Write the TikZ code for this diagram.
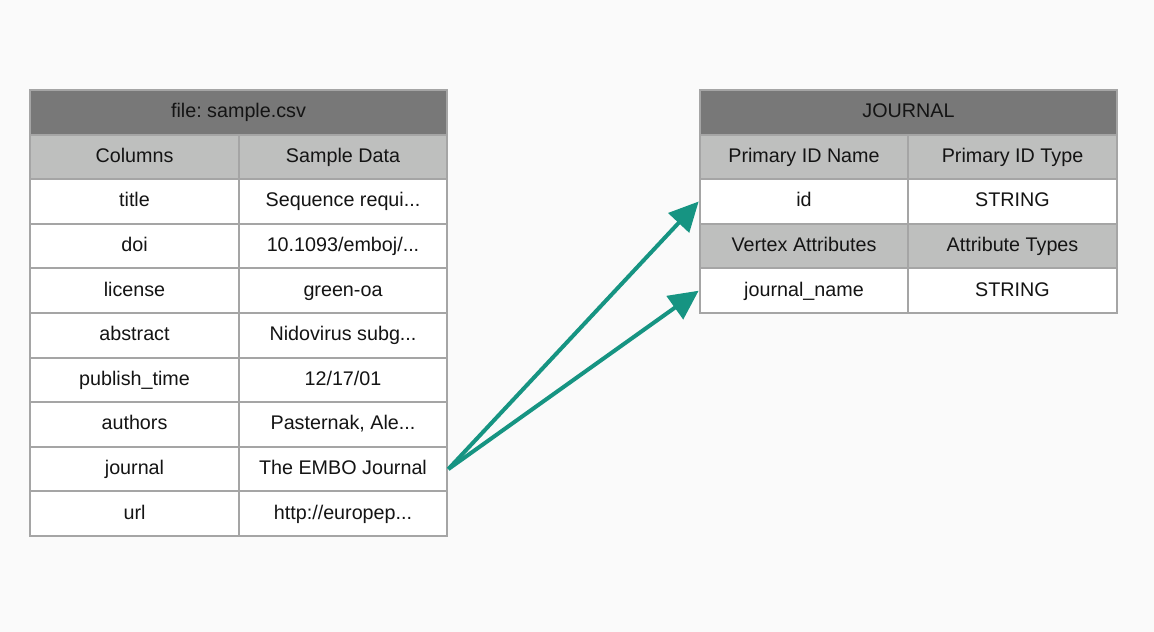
\documentclass[tikz,border=0pt]{standalone}
\usepackage{fontspec}
\setmainfont{Liberation Sans}
\usetikzlibrary{arrows.meta}
\frenchspacing

\definecolor{titlegrey}{RGB}{120,120,120}
\definecolor{headgrey}{RGB}{190,191,190}
\definecolor{linegrey}{RGB}{165,165,165}
\definecolor{linkteal}{RGB}{22,148,130}
\definecolor{paper}{RGB}{250,250,250}

\tikzset{every picture/.style={line width=0.75pt}}
\tikzset{
  cell/.style={draw=linegrey, line width=1.5pt, fill=white, minimum width=156.5pt, minimum height=33.45pt, inner sep=0pt, text=black!92, text height=11pt, text depth=3pt, font=\fontsize{14.8}{17}\selectfont},
  headcell/.style={cell, fill=headgrey},
  titlecell/.style={cell, fill=titlegrey, minimum width=313pt},
  link/.style={draw=linkteal, line width=3pt, -{Triangle[length=22pt, width=21pt]}}
}

\begin{document}
\begin{tikzpicture}[x=0.75pt,y=0.75pt,yscale=-1,xscale=1]
%set diagram size
\fill [paper] (0,0) rectangle (1154,632);
\useasboundingbox (0,0) rectangle (1154,632);

% Left table: file
\draw (238.5,112.3) node [titlecell] (file) {file: sample.csv};
\draw (134.5,156.9) node [headcell] (colhead) {Columns};
\draw (343,156.9) node [headcell] (datahead) {Sample Data};
\draw (134.5,201.5) node [cell] (ctitle) {title};
\draw (343,201.5) node [cell] (dtitle) {Sequence requi...};
\draw (134.5,246.1) node [cell] (cdoi) {doi};
\draw (343,246.1) node [cell] (ddoi) {10.1093/emboj/...};
\draw (134.5,290.7) node [cell] (clicense) {license};
\draw (343,290.7) node [cell] (dlicense) {green-oa};
\draw (134.5,335.3) node [cell] (cabstract) {abstract};
\draw (343,335.3) node [cell] (dabstract) {Nidovirus subg...};
\draw (134.5,379.9) node [cell] (cpublish) {publish\_time};
\draw (343,379.9) node [cell] (dpublish) {12/17/01};
\draw (134.5,424.5) node [cell] (cauthors) {authors};
\draw (343,424.5) node [cell] (dauthors) {Pasternak, Ale...};
\draw (134.5,469.1) node [cell] (cjournal) {journal};
\draw (343,469.1) node [cell] (djournal) {The EMBO Journal};
\draw (134.5,513.7) node [cell] (curl) {url};
\draw (343,513.7) node [cell] (durl) {http://europep...};

% Right table: JOURNAL vertex
\draw (908.5,112.3) node [titlecell] (journal) {JOURNAL};
\draw (804,156.9) node [headcell] (pidname) {Primary ID Name};
\draw (1012.5,156.9) node [headcell] (pidtype) {Primary ID Type};
\draw (804,201.5) node [cell] (vid) {id};
\draw (1012.5,201.5) node [cell] (vidtype) {STRING};
\draw (804,246.1) node [headcell] (attrname) {Vertex Attributes};
\draw (1012.5,246.1) node [headcell] (attrtype) {Attribute Types};
\draw (804,290.7) node [cell] (vjname) {journal\_name};
\draw (1012.5,290.7) node [cell] (vjtype) {STRING};

% Links
\draw [link] (djournal.east) -- (vid.west);
\draw [link] (djournal.east) -- (vjname.west);
\end{tikzpicture}
\end{document}
